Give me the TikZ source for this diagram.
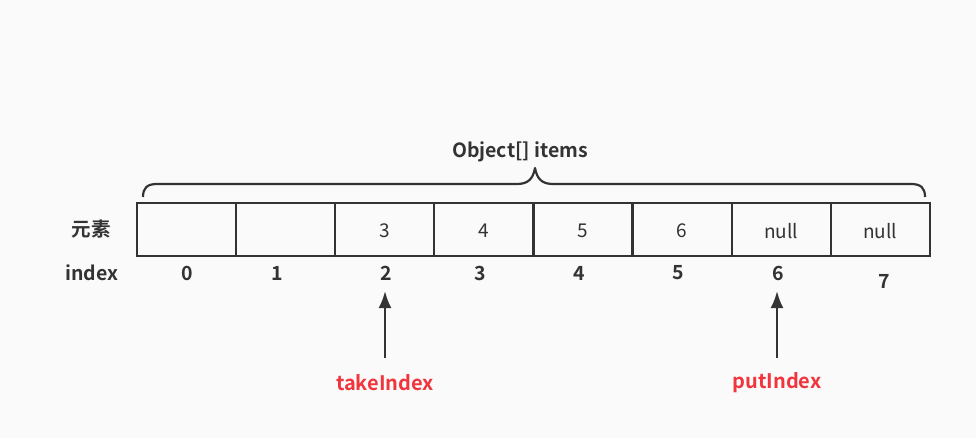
\documentclass[tikz,border=0pt]{standalone}
\usepackage{fontspec}
\setmainfont{Noto Sans CJK SC}[BoldFont={Noto Sans CJK SC Bold}]
\usetikzlibrary{arrows.meta}
\definecolor{ink}{HTML}{333333}
\definecolor{redlbl}{HTML}{F0353D}
\definecolor{bg}{HTML}{FAFAFA}
\begin{document}
\begin{tikzpicture}[x=1pt,y=-1pt,
  cell/.style={draw=ink,line width=2.2pt,minimum width=99.1pt,minimum height=53pt,inner sep=0pt,outer sep=0pt,text=ink},
  val/.style={font=\fontsize{19}{19}\selectfont,text=ink,inner sep=0pt},
  lbl/.style={font=\fontsize{19.5}{19.5}\selectfont\bfseries,text=ink,inner sep=1pt},
  red/.style={font=\fontsize{20}{20}\selectfont\bfseries,text=redlbl,inner sep=1pt},
  arr/.style={draw=ink,line width=2.6pt,-{Latex[length=17pt,width=13pt]}},
]
\fill[bg] (0,0) rectangle (976,438);
\useasboundingbox (0,0) rectangle (976,438);
% cells
\foreach \i in {0,...,7}{
  \node[cell] (c\i) at (186.55+99.1*\i,229.5) {};
}
\foreach \i/\v in {2/3,3/4,4/5,5/6,6/null,7/null}{
  \node[val] (v\i) at ([yshift=-1.5pt]c\i.center) {\v};
}
% index numbers
\node[lbl] (i0) at (187,273) {0};
\node[lbl] (i1) at (277,273) {1};
\node[lbl] (i2) at (386,273) {2};
\node[lbl] (i3) at (480,273) {3};
\node[lbl] (i4) at (579,273) {4};
\node[lbl] (i5) at (678,273) {5};
\node[lbl] (i6) at (778,273) {6};
\node[lbl] (i7) at (884,281) {7};
% row labels
\node[lbl] (ys) at (91,229) {元素};
\node[lbl] (ix) at (92,273) {index};
% brace
\node[lbl] (title) at (520,152) {Object[] items};
\draw[ink,line width=2.2pt,line join=round]
  (143,197) .. controls (143,188) and (147,184) .. (157,184)
  -- (517,184) .. controls (528,184) and (533,179) .. (535,168)
  .. controls (537,179) and (542,184) .. (553,184)
  -- (911,184) .. controls (921,184) and (925,188) .. (925,197);
% pointers
\node[red] (take) at (385,383) {takeIndex};
\node[red] (put) at (777,383) {putIndex};
\coordinate (t0) at (385,358);
\coordinate (t1) at (385,291);
\coordinate (p0) at (777,358);
\coordinate (p1) at (777,291);
\draw[arr] (t0) -- (t1);
\draw[arr] (p0) -- (p1);
\end{tikzpicture}
\end{document}
